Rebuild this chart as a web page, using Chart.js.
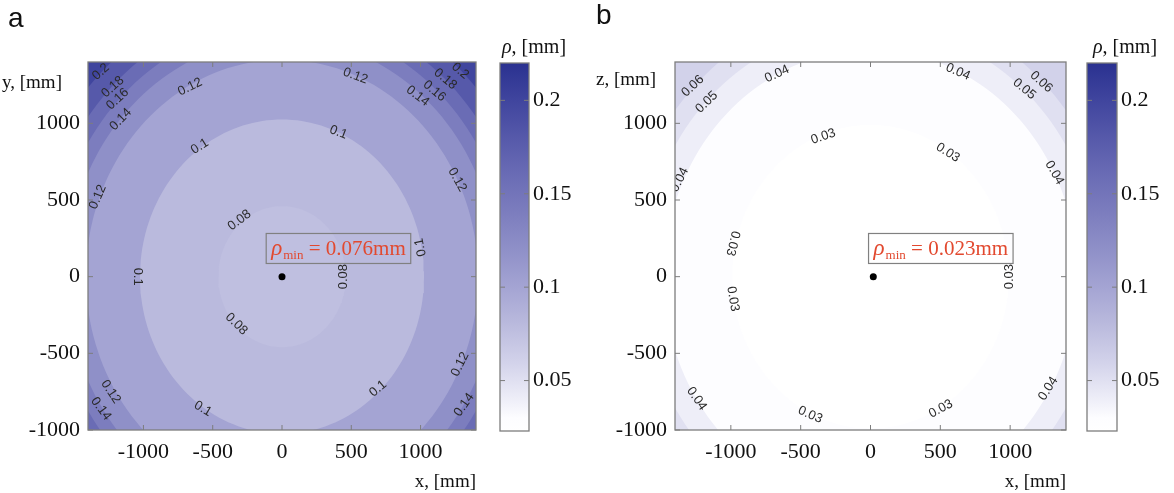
<!DOCTYPE html>
<html lang="en">
<head>
<meta charset="UTF-8">
<title>Contour maps of rho</title>
<script src="https://cdn.jsdelivr.net/npm/chart.js"></script>
<style>
	body { margin: 0; background: #fff; }
	#wrap { position: relative; width: 1174px; height: 493px; overflow: hidden; }
	canvas { position: absolute; top: 0; }
	.lbl { position: absolute; white-space: nowrap; color: #111; }
	.panel { font: 28px "Liberation Sans", Arial, sans-serif; line-height: 28px; }
	.ax { font: 19px "Liberation Serif", "Times New Roman", serif; line-height: 22px; }
	.cb { font: 20px "Liberation Serif", "Times New Roman", serif; line-height: 22px; }
</style>
</head>
<body>
<div id="wrap">
	<canvas id="plotA" width="480" height="493" style="left:0"></canvas>
	<canvas id="barA" width="100" height="493" style="left:480px"></canvas>
	<canvas id="plotB" width="496" height="493" style="left:580px"></canvas>
	<canvas id="barB" width="98" height="493" style="left:1076px"></canvas>

	<div class="lbl panel" style="left:8px;top:4px">a</div>
	<div class="lbl panel" style="left:596px;top:1px">b</div>
	<div class="lbl ax" style="left:2px;top:71px">y, [mm]</div>
	<div class="lbl ax" style="left:596px;top:68px">z, [mm]</div>
	<div class="lbl cb" style="left:502px;top:35px"><i>ρ</i>, [mm]</div>
	<div class="lbl cb" style="left:1093px;top:35px"><i>ρ</i>, [mm]</div>
</div>

<script>
// ---- data ----
const xTicks = [-1000, -500, 0, 500, 1000];
const yTicks = [-1000, -500, 0, 500, 1000];
const cbTicks = [0.05, 0.1, 0.15, 0.2];
const cbRange = [0.023, 0.22];

// panel a: contour levels and their radius (mm) around the minimum
const levelsA = [0.08, 0.1, 0.12, 0.14, 0.16, 0.18, 0.2];
const radiiA = [460, 1025, 1415, 1555, 1650, 1745, 1865];
const minValA = 0.076;
const minPointA = [0, 0];
// contour labels: [level, x, y]
const labelsA = [
	[0.2, -1307, 1336], [0.2, 1286, 1342],
	[0.18, -1221, 1237], [0.18, 1179, 1289],
	[0.16, -1186, 1158], [0.16, 1100, 1210],
	[0.14, -1164, 1026], [0.14, 979, 1178], [0.14, -1307, -862], [0.14, 1314, -836],
	[0.12, -664, 1237], [0.12, 529, 1309], [0.12, 1264, 632], [0.12, -1329, 520], [0.12, -1236, -750], [0.12, 1286, -572],
	[0.1, -593, 849], [0.1, 407, 941], [0.1, 1000, 191], [0.1, -1043, 0], [0.1, -571, -862], [0.1, 693, -730],
	[0.08, -307, 368], [0.08, 443, 0], [0.08, -329, -309]
];

// panel b
const levelsB = [0.03, 0.04, 0.05, 0.06];
const radiiB = [990, 1480, 1640, 1770];
const minValB = 0.023;
const minPointB = [20, 0];
const labelsB = [
	[0.06, -1273, 1243], [0.06, 1223, 1270],
	[0.05, -1173, 1138], [0.05, 1101, 1224],
	[0.04, -669, 1322], [0.04, -1367, 632], [0.04, 626, 1336], [0.04, 1317, 678], [0.04, -1245, -796], [0.04, 1273, -730],
	[0.03, -338, 914], [0.03, 554, 809], [0.03, -986, 217], [0.03, -986, -145], [0.03, 993, 0], [0.03, -432, -901], [0.03, 504, -862]
];

// ---- styles ----
const SERIF = '"Liberation Serif", "Times New Roman", serif';
const SANS = '"Liberation Sans", Arial, sans-serif';
const FRAME = '#7d7d7d';
const RED = '#e2492f';

// white -> navy colormap
const cmapStops = [
	[0.023, [255, 255, 255]],
	[0.03, [253, 253, 255]],
	[0.04, [238, 238, 248]],
	[0.06, [210, 210, 234]],
	[0.08, [186, 186, 221]],
	[0.10, [164, 164, 211]],
	[0.12, [143, 144, 200]],
	[0.14, [124, 125, 190]],
	[0.16, [106, 108, 181]],
	[0.18, [86, 89, 170]],
	[0.20, [64, 69, 158]],
	[0.22, [42, 49, 144]]
];

function cmap(v) {
	if (v <= cmapStops[0][0]) return 'rgb(' + cmapStops[0][1].join(',') + ')';
	for (let i = 1; i < cmapStops.length; i++) {
		const [v1, c1] = cmapStops[i];
		const [v0, c0] = cmapStops[i - 1];
		if (v <= v1) {
			const t = (v - v0) / (v1 - v0);
			const c = c0.map((a, k) => Math.round(a + (c1[k] - a) * t));
			return 'rgb(' + c.join(',') + ')';
		}
	}
	return 'rgb(' + cmapStops[cmapStops.length - 1][1].join(',') + ')';
}

// closed outline of one contour level, built from its radius
function ring(r) {
	const pts = [];
	const n = 180;
	for (let i = 0; i <= n; i++) {
		const t = i / n * 2 * Math.PI;
		pts.push({ x: r * Math.cos(t), y: r * Math.sin(t) });
	}
	return pts;
}

function inwardTicks(ctx, area, xs, ys) {
	ctx.save();
	ctx.strokeStyle = FRAME;
	ctx.lineWidth = 1;
	ctx.beginPath();
	(xs || []).forEach(px => {
		ctx.moveTo(px, area.bottom); ctx.lineTo(px, area.bottom - 5);
		ctx.moveTo(px, area.top); ctx.lineTo(px, area.top + 5);
	});
	(ys || []).forEach(py => {
		ctx.moveTo(area.left, py); ctx.lineTo(area.left + 5, py);
		ctx.moveTo(area.right, py); ctx.lineTo(area.right - 5, py);
	});
	ctx.stroke();
	ctx.lineWidth = 1.3;
	ctx.strokeRect(area.left, area.top, area.right - area.left, area.bottom - area.top);
	ctx.restore();
}

function makePanel(id, p) {
	const datasets = [{
		data: [{ x: p.minPoint[0], y: p.minPoint[1] }],
		showLine: false,
		pointRadius: 3.5,
		pointBackgroundColor: '#000',
		pointBorderWidth: 0
	}];
	p.levels.forEach((L, i) => {
		datasets.push({
			data: ring(p.radii[i]),
			fill: 'shape',
			backgroundColor: cmap(i === 0 ? p.minVal : p.levels[i - 1]),
			borderColor: 'transparent',
			borderWidth: 0,
			pointRadius: 0
		});
	});

	const decor = {
		id: 'decor',
		beforeDatasetsDraw(chart) {
			const { ctx, chartArea: a } = chart;
			ctx.save();
			ctx.fillStyle = cmap(p.levels[p.levels.length - 1]);
			ctx.fillRect(a.left, a.top, a.right - a.left, a.bottom - a.top);
			ctx.restore();
		},
		afterDatasetsDraw(chart) {
			const { ctx, chartArea: a, scales: { x, y } } = chart;
			const cx = x.getPixelForValue(0), cy = y.getPixelForValue(0);

			// contour labels, along the contour
			ctx.save();
			ctx.beginPath();
			ctx.rect(a.left, a.top, a.right - a.left, a.bottom - a.top);
			ctx.clip();
			ctx.fillStyle = '#2a2a2a';
			ctx.font = '13px ' + SANS;
			ctx.textAlign = 'center';
			ctx.textBaseline = 'middle';
			p.labels.forEach(([L, lx, ly]) => {
				const px = x.getPixelForValue(lx), py = y.getPixelForValue(ly);
				const dx = px - cx, dy = py - cy;
				let ang = Math.atan2(-dx, dy) * 180 / Math.PI;
				if (ang > 110) ang -= 180;
				if (ang < -110) ang += 180;
				ctx.save();
				ctx.translate(px, py);
				ctx.rotate(ang * Math.PI / 180);
				ctx.fillText(String(L), 0, 0);
				ctx.restore();
			});
			ctx.restore();

			inwardTicks(ctx, a, xTicks.map(v => x.getPixelForValue(v)), yTicks.map(v => y.getPixelForValue(v)));

			// rho_min annotation
			const bx = x.getPixelForValue(p.boxAt[0]);
			const by = y.getPixelForValue(p.boxAt[1]);
			ctx.save();
			ctx.fillStyle = RED;
			ctx.textBaseline = 'alphabetic';
			ctx.textAlign = 'left';
			let tx = bx + 5;
			const base = by - 8;
			ctx.font = 'italic 23px ' + SERIF;
			ctx.fillText('ρ', tx, base);
			tx += ctx.measureText('ρ').width + 1;
			ctx.font = '13px ' + SERIF;
			ctx.fillText('min', tx, base + 4);
			tx += ctx.measureText('min').width;
			ctx.font = '21px ' + SERIF;
			const rest = ' = ' + p.minVal.toFixed(3) + 'mm';
			ctx.fillText(rest, tx, base);
			tx += ctx.measureText(rest).width;
			ctx.strokeStyle = '#808080';
			ctx.lineWidth = 1.2;
			ctx.strokeRect(bx, by - 30, tx - bx + 5, 30);
			ctx.restore();
		}
	};

	new Chart(document.getElementById(id), {
		type: 'line',
		data: { datasets },
		options: {
			responsive: false,
			animation: false,
			layout: { padding: { left: 0, right: p.padRight, top: 62, bottom: 0 } },
			plugins: { legend: { display: false }, tooltip: { enabled: false } },
			scales: {
				x: {
					type: 'linear', min: -1400, max: 1400,
					afterBuildTicks: s => { s.ticks = xTicks.map(v => ({ value: v })); },
					afterFit: s => { s.height = 63; },
					grid: { display: false, drawTicks: false },
					border: { display: false },
					ticks: { padding: 9, color: '#111', font: { family: SERIF, size: 22 }, maxRotation: 0, autoSkip: false, callback: v => String(v) },
					title: { display: true, text: 'x, [mm]', align: 'end', color: '#111', font: { family: SERIF, size: 19 }, padding: { top: 0, bottom: 0 } }
				},
				y: {
					type: 'linear', min: -1000, max: 1400,
					afterBuildTicks: s => { s.ticks = yTicks.map(v => ({ value: v })); },
					afterFit: s => { s.width = p.yWidth; },
					grid: { display: false, drawTicks: false },
					border: { display: false },
					ticks: { padding: 8, color: '#111', font: { family: SERIF, size: 22 }, autoSkip: false, callback: v => String(v) }
				}
			}
		},
		plugins: [decor]
	});
}

function makeColorbar(id, padLeft, yWidth) {
	const frame = {
		id: 'cbframe',
		afterDatasetsDraw(chart) {
			const { ctx, chartArea: a, scales: { y } } = chart;
			inwardTicks(ctx, a, [], cbTicks.map(v => y.getPixelForValue(v)));
		}
	};
	new Chart(document.getElementById(id), {
		type: 'bar',
		data: {
			labels: ['rho'],
			datasets: [{
				data: [cbRange],
				categoryPercentage: 1,
				barPercentage: 1,
				borderWidth: 0,
				backgroundColor: function (context) {
					const chart = context.chart;
					const a = chart.chartArea;
					if (!a) return null;
					const y = chart.scales.y;
					const g = chart.ctx.createLinearGradient(0, a.bottom, 0, a.top);
					cmapStops.forEach(([v]) => {
						const off = (a.bottom - y.getPixelForValue(v)) / (a.bottom - a.top);
						g.addColorStop(Math.min(1, Math.max(0, off)), cmap(v));
					});
					return g;
				}
			}]
		},
		options: {
			responsive: false,
			animation: false,
			layout: { padding: { left: padLeft, right: 0, top: 63, bottom: 62 } },
			plugins: { legend: { display: false }, tooltip: { enabled: false } },
			scales: {
				x: { display: false },
				y: {
					position: 'right',
					min: cbRange[0], max: cbRange[1],
					afterBuildTicks: s => { s.ticks = cbTicks.map(v => ({ value: v })); },
					afterFit: s => { s.width = yWidth; },
					grid: { display: false, drawTicks: false },
					border: { display: false },
					ticks: { padding: 4, color: '#111', font: { family: SERIF, size: 22 }, autoSkip: false, callback: v => String(v) }
				}
			}
		},
		plugins: [frame]
	});
}

makePanel('plotA', {
	levels: levelsA, radii: radiiA, minVal: minValA, minPoint: minPointA, labels: labelsA,
	boxAt: [-114, 86], padRight: 1, yWidth: 88
});
makePanel('plotB', {
	levels: levelsB, radii: radiiB, minVal: minValB, minPoint: minPointB, labels: labelsB,
	boxAt: [-14, 86], padRight: 10, yWidth: 95
});
makeColorbar('barA', 20, 51);
makeColorbar('barB', 11, 57);
</script>
</body>
</html>
